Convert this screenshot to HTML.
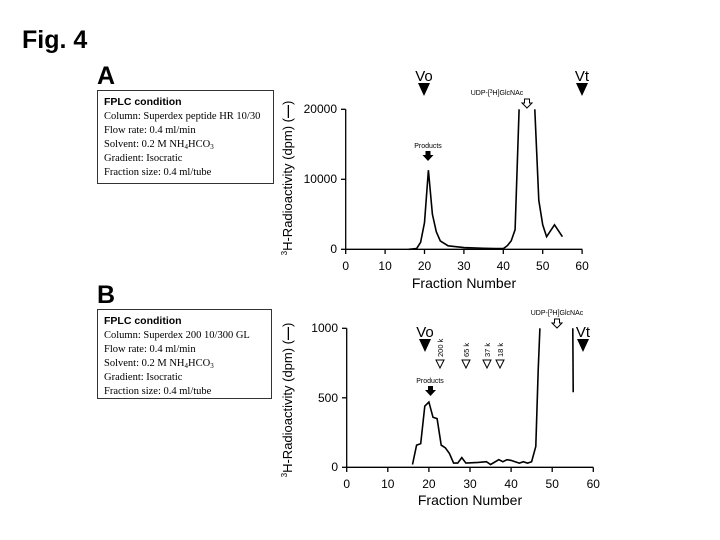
<!DOCTYPE html>
<html><head><meta charset="utf-8"><style>
body{margin:0;background:#fff;width:720px;height:540px;overflow:hidden}
svg{display:block}
text{font-family:"Liberation Sans",sans-serif;fill:#000}
.s{font-family:"Liberation Serif",serif;font-size:10.5px}
</style></head><body>
<svg width="720" height="540" viewBox="0 0 720 540" xmlns="http://www.w3.org/2000/svg">
<text x="22" y="48" font-size="25" font-weight="bold">Fig. 4</text>
<text x="97" y="84" font-size="25" font-weight="bold">A</text>
<text x="97" y="303" font-size="25" font-weight="bold">B</text>
<rect x="97.5" y="90.5" width="176" height="93" fill="none" stroke="#333" stroke-width="1"/>
<text x="104" y="105" font-size="10.5" font-weight="bold">FPLC condition</text>
<text class="s" x="104" y="119">Column: Superdex peptide HR 10/30</text>
<text class="s" x="104" y="133">Flow rate: 0.4 ml/min</text>
<text class="s" x="104" y="147">Solvent: 0.2 M NH<tspan font-size="7" dy="2">4</tspan><tspan dy="-2">HCO</tspan><tspan font-size="7" dy="2">3</tspan></text>
<text class="s" x="104" y="161">Gradient:  Isocratic</text>
<text class="s" x="104" y="175">Fraction size: 0.4 ml/tube</text>
<rect x="97.5" y="309.5" width="174" height="89" fill="none" stroke="#333" stroke-width="1"/>
<text x="104" y="324" font-size="10.5" font-weight="bold">FPLC condition</text>
<text class="s" x="104" y="338">Column: Superdex 200 10/300 GL</text>
<text class="s" x="104" y="352">Flow rate: 0.4 ml/min</text>
<text class="s" x="104" y="366">Solvent: 0.2 M NH<tspan font-size="7" dy="2">4</tspan><tspan dy="-2">HCO</tspan><tspan font-size="7" dy="2">3</tspan></text>
<text class="s" x="104" y="380">Gradient:  Isocratic</text>
<text class="s" x="104" y="394">Fraction size: 0.4 ml/tube</text>

<!-- Chart A -->
<g stroke="#000" stroke-width="1.3" fill="none">
<line x1="345.7" y1="109.3" x2="345.7" y2="249.3"/>
<line x1="345.7" y1="249.3" x2="582.3" y2="249.3"/>
<line x1="341" y1="109.3" x2="345.7" y2="109.3"/><line x1="341" y1="179.3" x2="345.7" y2="179.3"/><line x1="341" y1="249.3" x2="345.7" y2="249.3"/>
<line x1="345.7" y1="249.3" x2="345.7" y2="254"/><line x1="385.1" y1="249.3" x2="385.1" y2="254"/><line x1="424.5" y1="249.3" x2="424.5" y2="254"/><line x1="463.9" y1="249.3" x2="463.9" y2="254"/><line x1="503.3" y1="249.3" x2="503.3" y2="254"/><line x1="542.7" y1="249.3" x2="542.7" y2="254"/><line x1="582.1" y1="249.3" x2="582.1" y2="254"/>
</g>
<polyline id="pa1" fill="none" stroke="#000" stroke-width="1.6"/>
<polyline id="pa2" fill="none" stroke="#000" stroke-width="1.6"/>
<g font-size="12" text-anchor="end"><text x="337" y="113">20000</text><text x="337" y="183">10000</text><text x="337" y="253">0</text></g>
<g font-size="12" text-anchor="middle"><text x="345.7" y="270">0</text><text x="385.1" y="270">10</text><text x="424.5" y="270">20</text><text x="463.9" y="270">30</text><text x="503.3" y="270">40</text><text x="542.7" y="270">50</text><text x="582.1" y="270">60</text>
<text x="464" y="288" font-size="14">Fraction Number</text></g>
<text transform="translate(292,178) rotate(-90)" font-size="13" text-anchor="middle"><tspan font-size="8" dy="-5">3</tspan><tspan dy="5">H-Radioactivity (dpm) (</tspan><tspan font-weight="bold">—</tspan>)</text>
<text x="424" y="81" font-size="15" text-anchor="middle">Vo</text>
<polygon points="418,83 430,83 424,96" fill="#000"/>
<text x="582" y="81" font-size="15" text-anchor="middle">Vt</text>
<polygon points="576,83 588,83 582,96" fill="#000"/>
<text x="497" y="95" font-size="7" text-anchor="middle">UDP-[<tspan font-size="5" dy="-2">3</tspan><tspan dy="2">H]GlcNAc</tspan></text>
<polygon points="524.5,99 529.5,99 529.5,103 532,103 527,108 522,103 524.5,103" fill="#fff" stroke="#000" stroke-width="1"/>
<text x="428" y="148" font-size="7" text-anchor="middle">Products</text>
<polygon points="425.5,151 430.5,151 430.5,155 433.5,155 428,161 422.5,155 425.5,155" fill="#000"/>

<!-- Chart B -->
<g stroke="#000" stroke-width="1.3" fill="none">
<line x1="346.7" y1="328.3" x2="346.7" y2="467.3"/>
<line x1="346.7" y1="467.3" x2="593.3" y2="467.3"/>
<line x1="342" y1="328.3" x2="346.7" y2="328.3"/><line x1="342" y1="397.8" x2="346.7" y2="397.8"/><line x1="342" y1="467.3" x2="346.7" y2="467.3"/>
<line x1="346.7" y1="467.3" x2="346.7" y2="472"/><line x1="387.8" y1="467.3" x2="387.8" y2="472"/><line x1="428.9" y1="467.3" x2="428.9" y2="472"/><line x1="470" y1="467.3" x2="470" y2="472"/><line x1="511.1" y1="467.3" x2="511.1" y2="472"/><line x1="552.2" y1="467.3" x2="552.2" y2="472"/><line x1="593.3" y1="467.3" x2="593.3" y2="472"/>
</g>
<polyline id="pb1" fill="none" stroke="#000" stroke-width="1.6"/>
<polyline id="pb2" fill="none" stroke="#000" stroke-width="1.6"/>
<g font-size="12" text-anchor="end"><text x="338" y="332">1000</text><text x="338" y="402">500</text><text x="338" y="471">0</text></g>
<g font-size="12" text-anchor="middle"><text x="346.7" y="488">0</text><text x="387.8" y="488">10</text><text x="428.9" y="488">20</text><text x="470" y="488">30</text><text x="511.1" y="488">40</text><text x="552.2" y="488">50</text><text x="593.3" y="488">60</text>
<text x="470" y="505" font-size="14">Fraction Number</text></g>
<text transform="translate(292,400) rotate(-90)" font-size="13" text-anchor="middle"><tspan font-size="8" dy="-5">3</tspan><tspan dy="5">H-Radioactivity (dpm) (</tspan><tspan font-weight="bold">—</tspan>)</text>
<text x="425" y="337" font-size="15" text-anchor="middle">Vo</text>
<polygon points="419,339 431,339 425,352" fill="#000"/>
<text x="583" y="337" font-size="15" text-anchor="middle">Vt</text>
<polygon points="577,339 589,339 583,352" fill="#000"/>
<text x="557" y="315" font-size="7" text-anchor="middle">UDP-[<tspan font-size="5" dy="-2">3</tspan><tspan dy="2">H]GlcNAc</tspan></text>
<polygon points="554.5,319 559.5,319 559.5,323 562,323 557,328 552,323 554.5,323" fill="#fff" stroke="#000" stroke-width="1"/>
<text x="430" y="383" font-size="7" text-anchor="middle">Products</text>
<polygon points="428,386 433,386 433,390 436,390 430.5,396 425,390 428,390" fill="#000"/>
<g font-size="7.5">
<text transform="translate(443,357) rotate(-90)">200 k</text>
<text transform="translate(469,357) rotate(-90)">65 k</text>
<text transform="translate(490,357) rotate(-90)">37 k</text>
<text transform="translate(503,357) rotate(-90)">18 k</text>
</g>
<g fill="#fff" stroke="#000" stroke-width="1">
<polygon points="436,360 444,360 440,368"/>
<polygon points="462,360 470,360 466,368"/>
<polygon points="483,360 491,360 487,368"/>
<polygon points="496,360 504,360 500,368"/>
</g>
<script>
function P(id,d,x0,sx,y0,sy){document.getElementById(id).setAttribute('points',d.map(p=>(x0+sx*p[0]).toFixed(1)+','+(y0-sy*p[1]).toFixed(1)).join(' '));}
P('pa1',[[16,0],[18,100],[19,1000],[20,3800],[21,11300],[22,5000],[23,2500],[24,1200],[26,500],[30,250],[35,150],[38,100],[40,100],[41,500],[42,1200],[43,2800],[44,20000]],345.7,3.94,249.3,0.007);
P('pa2',[[48,20000],[49,7000],[50,3500],[51,1800],[53,3500],[55,1800]],345.7,3.94,249.3,0.007);
P('pb1',[[16,20],[17,160],[18,170],[19,440],[20,470],[21,360],[22,350],[23,160],[24,140],[25,100],[26,30],[27,30],[28,70],[29,30],[32,35],[34,40],[35,20],[37,55],[38,40],[39,55],[40,50],[42,30],[43,40],[44,30],[45,40],[46,150],[46.6,700],[47,1000]],346.7,4.11,467.3,0.139);
P('pb2',[[55,1000],[55.1,540]],346.7,4.11,467.3,0.139);
</script>
</svg>
</body></html>
